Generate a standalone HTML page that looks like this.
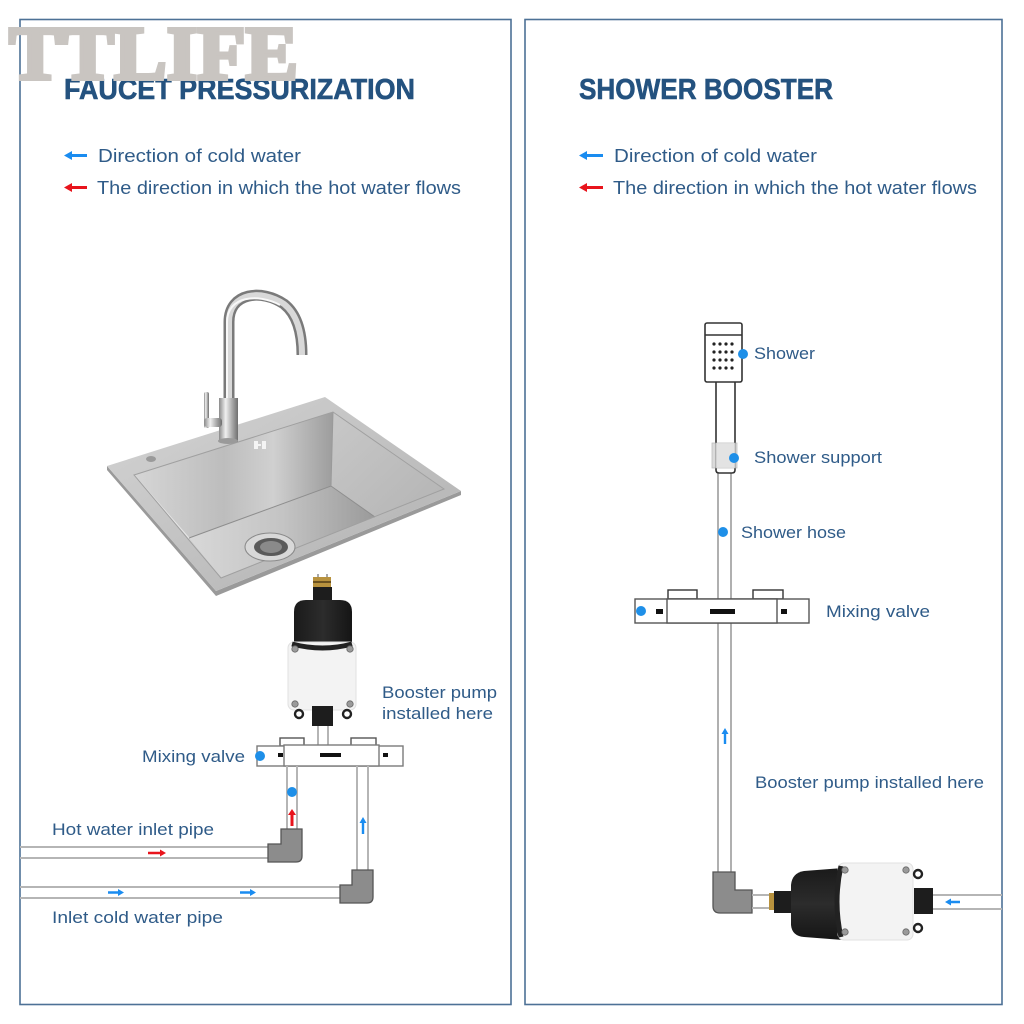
<!DOCTYPE html>
<html><head><meta charset="utf-8"><style>
html,body{margin:0;padding:0;background:#fff;}
svg{display:block;}
text{font-family:"Liberation Sans",sans-serif;}
</style></head><body>
<svg width="1024" height="1024" viewBox="0 0 1024 1024" xmlns="http://www.w3.org/2000/svg">
<defs>
<linearGradient id="rim" x1="0" y1="0" x2="1" y2="1">
<stop offset="0" stop-color="#d4d4d4"/><stop offset="0.5" stop-color="#c2c2c2"/><stop offset="1" stop-color="#b0b0b0"/>
</linearGradient>
<linearGradient id="back" x1="0" y1="0" x2="1" y2="0">
<stop offset="0" stop-color="#d6d6d6"/><stop offset="0.45" stop-color="#bdbdbd"/><stop offset="0.7" stop-color="#d0d0d0"/><stop offset="1" stop-color="#9d9d9d"/>
</linearGradient>
<linearGradient id="rwall" x1="0" y1="0" x2="1" y2="1">
<stop offset="0" stop-color="#c8c8c8"/><stop offset="1" stop-color="#b4b4b4"/>
</linearGradient>
<linearGradient id="floor" x1="0" y1="0" x2="1" y2="0">
<stop offset="0" stop-color="#d8d8d8"/><stop offset="0.5" stop-color="#c4c4c4"/><stop offset="1" stop-color="#9a9a9a"/>
</linearGradient>
<linearGradient id="chrome" x1="0" y1="0" x2="1" y2="0">
<stop offset="0" stop-color="#8a8a8a"/><stop offset="0.35" stop-color="#f0f0f0"/><stop offset="0.7" stop-color="#a8a8a8"/><stop offset="1" stop-color="#6f6f6f"/>
</linearGradient>
<linearGradient id="blk" x1="0" y1="0" x2="1" y2="0">
<stop offset="0" stop-color="#1a1a1a"/><stop offset="0.5" stop-color="#2c2c2c"/><stop offset="1" stop-color="#151515"/>
</linearGradient>
<linearGradient id="blkv" x1="0" y1="0" x2="0" y2="1">
<stop offset="0" stop-color="#1a1a1a"/><stop offset="0.5" stop-color="#2c2c2c"/><stop offset="1" stop-color="#151515"/>
</linearGradient>
</defs>

<!-- panels -->
<rect x="20" y="19.5" width="491" height="985" fill="none" stroke="#4d7196" stroke-width="1.6"/>
<rect x="525" y="19.5" width="477" height="985" fill="none" stroke="#4d7196" stroke-width="1.6"/>

<!-- Titles -->
<text x="64" y="99" font-size="29" font-weight="bold" fill="#24527f" stroke="#24527f" stroke-width="0.6" textLength="351" lengthAdjust="spacingAndGlyphs">FAUCET PRESSURIZATION</text>
<text x="579" y="99" font-size="29" font-weight="bold" fill="#24527f" stroke="#24527f" stroke-width="0.6" textLength="254" lengthAdjust="spacingAndGlyphs">SHOWER BOOSTER</text>

<!-- watermark -->
<text x="9" y="79" font-size="76" font-weight="bold" fill="#c9c5c1" stroke="#c9c5c1" stroke-width="4" stroke-linejoin="miter" textLength="289" lengthAdjust="spacingAndGlyphs" style="font-family:'Liberation Serif',serif">TTLIFE</text>

<!-- legends left -->
<g>
<polygon points="64,155.5 72,151 72,154 87,154 87,157 72,157 72,160" fill="#1a8cf0"/>
<text x="98" y="162" font-size="18" fill="#2f5b88" textLength="203" lengthAdjust="spacingAndGlyphs">Direction of cold water</text>
<polygon points="64,187.5 72,183 72,186 87,186 87,189 72,189 72,192" fill="#e8141c"/>
<text x="97" y="194" font-size="18" fill="#2f5b88" textLength="364" lengthAdjust="spacingAndGlyphs">The direction in which the hot water flows</text>
</g>
<g>
<polygon points="579,155.5 587,151 587,154 603,154 603,157 587,157 587,160" fill="#1a8cf0"/>
<text x="614" y="162" font-size="18" fill="#2f5b88" textLength="203" lengthAdjust="spacingAndGlyphs">Direction of cold water</text>
<polygon points="579,187.5 587,183 587,186 603,186 603,189 587,189 587,192" fill="#e8141c"/>
<text x="613" y="194" font-size="18" fill="#2f5b88" textLength="364" lengthAdjust="spacingAndGlyphs">The direction in which the hot water flows</text>
</g>

<!-- ===== SINK ===== -->
<polygon points="107,466 216,591 461,491 461,495 216,596 107,470" fill="#9a9a9a"/>
<polygon points="107,466 325,397 461,491 216,591" fill="url(#rim)"/>
<polygon points="134,475 333,412 444,489 221,578" fill="#b8b8b8"/>
<polygon points="134,475 333,412 331,486 189,538" fill="url(#back)"/>
<polygon points="333,412 444,489 375,517 331,486" fill="url(#rwall)"/>
<polygon points="189,538 331,486 375,517 221,578" fill="url(#floor)"/>
<polygon points="134,475 189,538 221,578" fill="#d2d2d2"/>
<polyline points="189,538 331,486 375,517" fill="none" stroke="#8e8e8e" stroke-width="1"/>
<line x1="333" y1="412" x2="331" y2="486" stroke="#9a9a9a" stroke-width="1"/>
<line x1="134" y1="475" x2="189" y2="538" stroke="#e6e6e6" stroke-width="1"/>
<polygon points="134,475 333,412 444,489 221,578" fill="none" stroke="#a0a0a0" stroke-width="1"/>
<ellipse cx="270" cy="547" rx="25" ry="14" fill="#d8d8d8" stroke="#8a8a8a" stroke-width="1"/>
<ellipse cx="271" cy="547" rx="17" ry="9" fill="#5a5a5a"/>
<ellipse cx="271" cy="547" rx="11" ry="6" fill="#8a8a8a"/>
<ellipse cx="151" cy="459" rx="5" ry="3" fill="#9a9a9a"/>
<rect x="254" y="441" width="4" height="8" fill="#f4f4f4"/><rect x="258" y="444" width="3" height="2" fill="#f4f4f4"/><rect x="262" y="441" width="4" height="8" fill="#f4f4f4"/>
<!-- faucet -->
<path d="M229,440 L229,322 C229,292 262,289 284,304 C298,315 302,334 302,355" fill="none" stroke="#7a7a7a" stroke-width="11"/>
<path d="M229,440 L229,322 C229,292 262,289 284,304 C298,315 302,334 302,355" fill="none" stroke="#d8d8d8" stroke-width="6"/>
<path d="M227,440 L227,322 C227,296 258,293 280,305" fill="none" stroke="#f8f8f8" stroke-width="2"/>
<rect x="219" y="398" width="19" height="44" fill="url(#chrome)"/>
<rect x="204" y="392" width="5" height="36" rx="2" fill="url(#chrome)"/>
<rect x="204" y="418" width="18" height="9" rx="3" fill="url(#chrome)"/>
<ellipse cx="228" cy="441" rx="10" ry="3" fill="#9a9a9a"/>

<!-- ===== LEFT PUMP ===== -->
<line x1="318" y1="574" x2="318" y2="580" stroke="#aaa" stroke-width="2"/>
<line x1="327" y1="574" x2="327" y2="580" stroke="#aaa" stroke-width="2"/>
<rect x="313" y="577" width="18" height="10" fill="#b8923e"/>
<rect x="313" y="581" width="18" height="2" fill="#6b5220"/>
<rect x="313" y="587" width="19" height="14" fill="#1d1d1d"/>
<path d="M294,647 L294,612 Q294,600 306,600 L340,600 Q352,600 352,612 L352,647 Q323,655 294,647 Z" fill="url(#blk)"/>
<rect x="288" y="642" width="68" height="68" rx="6" fill="#f3f3f3" stroke="#e0e0e0" stroke-width="1"/>
<path d="M292,644 Q323,652 352,644" fill="none" stroke="#222" stroke-width="5"/>
<circle cx="295" cy="649" r="3.2" fill="#9a9a9a" stroke="#666" stroke-width="0.8"/>
<circle cx="350" cy="649" r="3.2" fill="#9a9a9a" stroke="#666" stroke-width="0.8"/>
<circle cx="295" cy="704" r="3.2" fill="#9a9a9a" stroke="#666" stroke-width="0.8"/>
<circle cx="350" cy="704" r="3.2" fill="#9a9a9a" stroke="#666" stroke-width="0.8"/>
<circle cx="299" cy="714" r="4" fill="none" stroke="#222" stroke-width="2.4"/>
<circle cx="347" cy="714" r="4" fill="none" stroke="#222" stroke-width="2.4"/>
<rect x="312" y="706" width="21" height="20" fill="#1d1d1d"/>
<line x1="318" y1="726" x2="318" y2="746" stroke="#b5b5b5" stroke-width="2"/>
<line x1="328" y1="726" x2="328" y2="746" stroke="#b5b5b5" stroke-width="2"/>

<!-- ===== LEFT VALVE ===== -->
<rect x="280" y="738" width="24" height="8" fill="#fff" stroke="#555" stroke-width="1.4"/>
<rect x="351" y="738" width="25" height="8" fill="#fff" stroke="#555" stroke-width="1.4"/>
<rect x="257" y="746" width="146" height="20" fill="#fff" stroke="#7a7a7a" stroke-width="1.4"/>
<rect x="284" y="745" width="95" height="21" fill="#fff" stroke="#7a7a7a" stroke-width="1.4"/>
<rect x="320" y="753" width="21" height="4" fill="#111"/>
<rect x="278" y="753" width="5" height="4" fill="#111"/>
<rect x="383" y="753" width="5" height="4" fill="#111"/>
<circle cx="260" cy="756" r="5" fill="#1e8fe8"/>
<text x="142" y="762" font-size="17" fill="#2f5b88" textLength="103" lengthAdjust="spacingAndGlyphs">Mixing valve</text>
<text x="382" y="698" font-size="17" fill="#2f5b88" textLength="115" lengthAdjust="spacingAndGlyphs">Booster pump</text>
<text x="382" y="719" font-size="17" fill="#2f5b88" textLength="111" lengthAdjust="spacingAndGlyphs">installed here</text>

<line x1="287" y1="766" x2="287" y2="830" stroke="#b5b5b5" stroke-width="2"/>
<line x1="297" y1="766" x2="297" y2="830" stroke="#b5b5b5" stroke-width="2"/>
<circle cx="292" cy="792" r="5" fill="#1e8fe8"/>
<polygon points="292,809 296,815 293.5,815 293.5,826 290.5,826 290.5,815 288,815" fill="#e8141c"/>
<line x1="357" y1="766" x2="357" y2="871" stroke="#b5b5b5" stroke-width="2"/>
<line x1="368" y1="766" x2="368" y2="871" stroke="#b5b5b5" stroke-width="2"/>
<polygon points="363,817 366.5,823 364.2,823 364.2,834 361.8,834 361.8,823 359.5,823" fill="#1a8cf0"/>

<line x1="20" y1="847" x2="268" y2="847" stroke="#b5b5b5" stroke-width="2"/>
<line x1="20" y1="858" x2="268" y2="858" stroke="#b5b5b5" stroke-width="2"/>
<polygon points="166,853 160,849.5 160,851.8 148,851.8 148,854.2 160,854.2 160,856.5" fill="#e8141c"/>
<path d="M281,829 L302,829 L302,856 Q302,862 296,862 L268,862 L268,844 L281,844 Z" fill="#8c8c8c" stroke="#555" stroke-width="1.3"/>
<text x="52" y="835" font-size="17" fill="#2f5b88" textLength="162" lengthAdjust="spacingAndGlyphs">Hot water inlet pipe</text>

<line x1="20" y1="887" x2="340" y2="887" stroke="#b5b5b5" stroke-width="2"/>
<line x1="20" y1="898" x2="340" y2="898" stroke="#b5b5b5" stroke-width="2"/>
<polygon points="124,892.5 118,889 118,891.3 108,891.3 108,893.7 118,893.7 118,896" fill="#1a8cf0"/>
<polygon points="256,892.5 250,889 250,891.3 240,891.3 240,893.7 250,893.7 250,896" fill="#1a8cf0"/>
<path d="M352,870 L373,870 L373,897 Q373,903 367,903 L340,903 L340,885 L352,885 Z" fill="#8c8c8c" stroke="#555" stroke-width="1.3"/>
<text x="52" y="923" font-size="17" fill="#2f5b88" textLength="171" lengthAdjust="spacingAndGlyphs">Inlet cold water pipe</text>

<!-- ===== RIGHT SHOWER ===== -->
<line x1="718" y1="470" x2="718" y2="873" stroke="#b0b0b0" stroke-width="2"/>
<line x1="731" y1="470" x2="731" y2="873" stroke="#b0b0b0" stroke-width="2"/>
<path d="M716,381 L716,470 Q716,473 719,473 L732,473 Q735,473 735,470 L735,381" fill="#fff" stroke="#333" stroke-width="1.6"/>
<rect x="712" y="443" width="25" height="25" fill="#cfcfcf" stroke="#aaa" stroke-width="0.8" opacity="0.75"/>
<rect x="716" y="443" width="19" height="25" fill="#e8e8e8" opacity="0.6"/>
<rect x="705" y="323" width="37" height="59" rx="2" fill="#fff" stroke="#333" stroke-width="1.6"/>
<line x1="705" y1="335" x2="742" y2="335" stroke="#333" stroke-width="1.4"/>
<g fill="#222">
<circle cx="714" cy="344" r="1.6"/><circle cx="720" cy="344" r="1.6"/><circle cx="726" cy="344" r="1.6"/><circle cx="732" cy="344" r="1.6"/>
<circle cx="714" cy="352" r="1.6"/><circle cx="720" cy="352" r="1.6"/><circle cx="726" cy="352" r="1.6"/><circle cx="732" cy="352" r="1.6"/>
<circle cx="714" cy="360" r="1.6"/><circle cx="720" cy="360" r="1.6"/><circle cx="726" cy="360" r="1.6"/><circle cx="732" cy="360" r="1.6"/>
<circle cx="714" cy="368" r="1.6"/><circle cx="720" cy="368" r="1.6"/><circle cx="726" cy="368" r="1.6"/><circle cx="732" cy="368" r="1.6"/>
</g>
<circle cx="743" cy="354" r="5" fill="#1e8fe8"/>
<text x="754" y="359" font-size="17" fill="#2f5b88" textLength="61" lengthAdjust="spacingAndGlyphs">Shower</text>
<circle cx="734" cy="458" r="5" fill="#1e8fe8"/>
<text x="754" y="463" font-size="17" fill="#2f5b88" textLength="128" lengthAdjust="spacingAndGlyphs">Shower support</text>
<circle cx="723" cy="532" r="5" fill="#1e8fe8"/>
<text x="741" y="538" font-size="17" fill="#2f5b88" textLength="105" lengthAdjust="spacingAndGlyphs">Shower hose</text>

<rect x="668" y="590" width="29" height="9" fill="#fff" stroke="#333" stroke-width="1.4"/>
<rect x="753" y="590" width="30" height="9" fill="#fff" stroke="#333" stroke-width="1.4"/>
<rect x="635" y="599" width="174" height="24" fill="#fff" stroke="#555" stroke-width="1.4"/>
<rect x="667" y="599" width="110" height="24" fill="#fff" stroke="#555" stroke-width="1.4"/>
<rect x="710" y="609" width="25" height="5" fill="#111"/>
<rect x="656" y="609" width="7" height="5" fill="#111"/>
<rect x="781" y="609" width="6" height="5" fill="#111"/>
<circle cx="641" cy="611" r="5" fill="#1e8fe8"/>
<text x="826" y="617" font-size="17" fill="#2f5b88" textLength="104" lengthAdjust="spacingAndGlyphs">Mixing valve</text>

<polygon points="725,728 728.5,734 726.2,734 726.2,744 723.8,744 723.8,734 721.5,734" fill="#1a8cf0"/>
<text x="755" y="788" font-size="17" fill="#2f5b88" textLength="229" lengthAdjust="spacingAndGlyphs">Booster pump installed here</text>

<path d="M713,872 L735,872 L735,890 L752,890 L752,913 L720,913 Q713,913 713,906 Z" fill="#8c8c8c" stroke="#555" stroke-width="1.3"/>
<line x1="752" y1="895" x2="772" y2="895" stroke="#b5b5b5" stroke-width="2"/>
<line x1="752" y1="908" x2="772" y2="908" stroke="#b5b5b5" stroke-width="2"/>
<rect x="769" y="893" width="6" height="17" fill="#b8923e"/>
<rect x="774" y="891" width="18" height="22" fill="#1d1d1d"/>
<path d="M843,868 L804,871 Q792,873 791,885 L791,925 Q792,936 804,937 L843,940 Z" fill="url(#blkv)"/>
<rect x="838" y="863" width="75" height="77" rx="6" fill="#f3f3f3" stroke="#e0e0e0" stroke-width="1"/>
<path d="M841,866 Q833,902 841,937" fill="none" stroke="#222" stroke-width="5"/>
<circle cx="845" cy="870" r="3.2" fill="#9a9a9a" stroke="#666" stroke-width="0.8"/>
<circle cx="906" cy="870" r="3.2" fill="#9a9a9a" stroke="#666" stroke-width="0.8"/>
<circle cx="845" cy="932" r="3.2" fill="#9a9a9a" stroke="#666" stroke-width="0.8"/>
<circle cx="906" cy="932" r="3.2" fill="#9a9a9a" stroke="#666" stroke-width="0.8"/>
<circle cx="918" cy="874" r="4" fill="none" stroke="#222" stroke-width="2.4"/>
<circle cx="918" cy="928" r="4" fill="none" stroke="#222" stroke-width="2.4"/>
<rect x="914" y="888" width="19" height="26" fill="#1d1d1d"/>
<line x1="933" y1="895" x2="1002" y2="895" stroke="#b5b5b5" stroke-width="2"/>
<line x1="933" y1="909" x2="1002" y2="909" stroke="#b5b5b5" stroke-width="2"/>
<polygon points="945,902 951,898.5 951,900.8 960,900.8 960,903.2 951,903.2 951,905.5" fill="#1a8cf0"/>
</svg>
</body></html>
